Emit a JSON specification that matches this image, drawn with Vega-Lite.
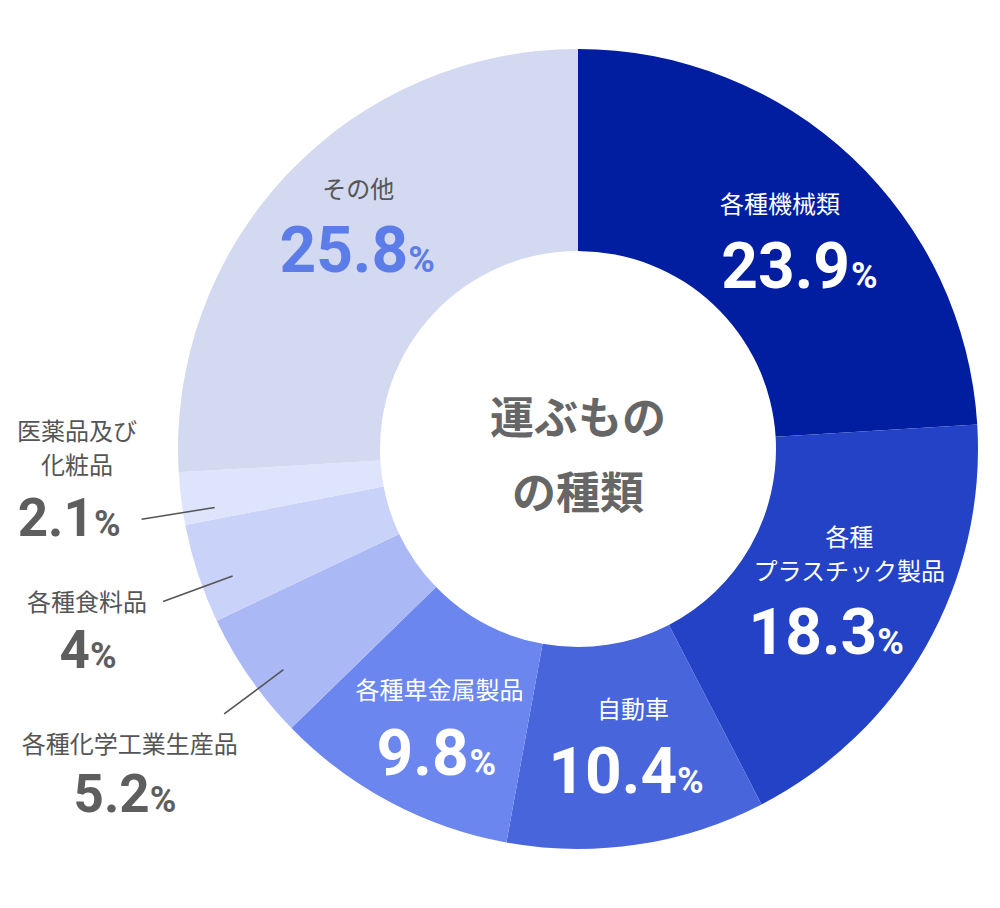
{
  "$schema": "https://vega.github.io/schema/vega-lite/v6.json",
  "width": 844,
  "height": 898,
  "padding": {"left": 156, "top": 0, "right": 0, "bottom": 0},
  "autosize": {"type": "none"},
  "background": "white",
  "config": {"view": {"stroke": null}},
  "layer": [
    {
      "data": {
        "values": [
          {"rank": 1, "name": "各種機械類", "value": 23.9},
          {"rank": 2, "name": "各種\nプラスチック製品", "value": 18.3},
          {"rank": 3, "name": "自動車", "value": 10.4},
          {"rank": 4, "name": "各種卑金属製品", "value": 9.8},
          {"rank": 5, "name": "各種化学工業生産品", "value": 5.2},
          {"rank": 6, "name": "各種食料品", "value": 4},
          {"rank": 7, "name": "医薬品及び\n化粧品", "value": 2.1},
          {"rank": 8, "name": "その他", "value": 25.8}
        ]
      },
      "encoding": {
        "theta": {"field": "value", "type": "quantitative", "stack": true},
        "order": {"field": "rank", "type": "quantitative"}
      },
      "layer": [
        {
          "mark": {"type": "arc", "outerRadius": 400, "innerRadius": 198},
          "encoding": {
            "color": {
              "field": "rank",
              "type": "ordinal",
              "legend": null,
              "scale": {
                "domain": [1, 2, 3, 4, 5, 6, 7, 8],
                "range": ["#001E9F", "#2442C6", "#4865DC", "#6B86EE", "#AAB9F5", "#C9D2F8", "#DEE4FC", "#D3D9F0"]
              }
            }
          }
        },
        {
          "mark": {"type": "arc", "innerRadius": 368, "outerRadius": 442, "padAngle": 1.2, "thetaOffset": -0.035, "filled": false, "stroke": "#555555", "strokeWidth": 1.6},
          "encoding": {
            "strokeOpacity": {"condition": {"test": "datum.rank >= 5 && datum.rank <= 7", "value": 1}, "value": 0}
          }
        },

        {"mark": {"type": "text", "radius": 305, "dx": -7, "dy": -21, "font": "Noto Sans CJK JP", "fontSize": 24, "color": "white", "align": "center", "baseline": "middle"},
         "encoding": {"text": {"condition": {"test": "datum.rank === 1", "field": "name", "type": "nominal"}, "value": ""}}},
        {"mark": {"type": "text", "radius": 305, "dx": 63, "dy": 61, "font": "Roboto", "fontWeight": "bold", "fontSize": 64, "color": "white", "align": "right", "baseline": "alphabetic"},
         "encoding": {"text": {"condition": {"test": "datum.rank === 1", "field": "value", "type": "quantitative"}, "value": ""}}},
        {"mark": {"type": "text", "radius": 305, "dx": 64, "dy": 61, "font": "Roboto", "fontWeight": "bold", "fontSize": 36, "color": "white", "align": "left", "baseline": "alphabetic", "text": "%"},
         "encoding": {"opacity": {"condition": {"test": "datum.rank === 1", "value": 1}, "value": 0}}},

        {"mark": {"type": "text", "radius": 305, "dx": 6, "dy": -61, "font": "Noto Sans CJK JP", "fontSize": 24, "color": "white", "align": "center", "baseline": "middle", "lineBreak": "\n", "lineHeight": 34},
         "encoding": {"text": {"condition": {"test": "datum.rank === 2", "field": "name", "type": "nominal"}, "value": ""}}},
        {"mark": {"type": "text", "radius": 305, "dx": 34, "dy": 54, "font": "Roboto", "fontWeight": "bold", "fontSize": 64, "color": "white", "align": "right", "baseline": "alphabetic"},
         "encoding": {"text": {"condition": {"test": "datum.rank === 2", "field": "value", "type": "quantitative"}, "value": ""}}},
        {"mark": {"type": "text", "radius": 305, "dx": 34, "dy": 54, "font": "Roboto", "fontWeight": "bold", "fontSize": 36, "color": "white", "align": "left", "baseline": "alphabetic", "text": "%"},
         "encoding": {"opacity": {"condition": {"test": "datum.rank === 2", "value": 1}, "value": 0}}},

        {"mark": {"type": "text", "radius": 305, "dx": 10, "dy": -40, "font": "Noto Sans CJK JP", "fontSize": 24, "color": "white", "align": "center", "baseline": "middle"},
         "encoding": {"text": {"condition": {"test": "datum.rank === 3", "field": "name", "type": "nominal"}, "value": ""}}},
        {"mark": {"type": "text", "radius": 305, "dx": 54, "dy": 42, "font": "Roboto", "fontWeight": "bold", "fontSize": 64, "color": "white", "align": "right", "baseline": "alphabetic"},
         "encoding": {"text": {"condition": {"test": "datum.rank === 3", "field": "value", "type": "quantitative"}, "value": ""}}},
        {"mark": {"type": "text", "radius": 305, "dx": 54, "dy": 42, "font": "Roboto", "fontWeight": "bold", "fontSize": 36, "color": "white", "align": "left", "baseline": "alphabetic", "text": "%"},
         "encoding": {"opacity": {"condition": {"test": "datum.rank === 3", "value": 1}, "value": 0}}},

        {"mark": {"type": "text", "radius": 305, "dx": 5, "dy": -26, "font": "Noto Sans CJK JP", "fontSize": 24, "color": "white", "align": "center", "baseline": "middle"},
         "encoding": {"text": {"condition": {"test": "datum.rank === 4", "field": "name", "type": "nominal"}, "value": ""}}},
        {"mark": {"type": "text", "radius": 305, "dx": 34, "dy": 57, "font": "Roboto", "fontWeight": "bold", "fontSize": 64, "color": "white", "align": "right", "baseline": "alphabetic"},
         "encoding": {"text": {"condition": {"test": "datum.rank === 4", "field": "value", "type": "quantitative"}, "value": ""}}},
        {"mark": {"type": "text", "radius": 305, "dx": 35, "dy": 57, "font": "Roboto", "fontWeight": "bold", "fontSize": 36, "color": "white", "align": "left", "baseline": "alphabetic", "text": "%"},
         "encoding": {"opacity": {"condition": {"test": "datum.rank === 4", "value": 1}, "value": 0}}},

        {"mark": {"type": "text", "radius": 540, "dx": -5, "dy": -11, "font": "Noto Sans CJK JP", "fontSize": 24, "color": "#555555", "align": "center", "baseline": "middle"},
         "encoding": {"text": {"condition": {"test": "datum.rank === 5", "field": "name", "type": "nominal"}, "value": ""}}},
        {"mark": {"type": "text", "radius": 540, "dx": 15, "dy": 55, "font": "Roboto", "fontWeight": "bold", "fontSize": 53, "color": "#5E5E5E", "align": "right", "baseline": "alphabetic"},
         "encoding": {"text": {"condition": {"test": "datum.rank === 5", "field": "value", "type": "quantitative"}, "value": ""}}},
        {"mark": {"type": "text", "radius": 540, "dx": 15, "dy": 55, "font": "Roboto", "fontWeight": "bold", "fontSize": 36, "color": "#5E5E5E", "align": "left", "baseline": "alphabetic", "text": "%"},
         "encoding": {"opacity": {"condition": {"test": "datum.rank === 5", "value": 1}, "value": 0}}},

        {"mark": {"type": "text", "radius": 520, "dx": 3, "dy": -7, "font": "Noto Sans CJK JP", "fontSize": 24, "color": "#555555", "align": "center", "baseline": "middle"},
         "encoding": {"text": {"condition": {"test": "datum.rank === 6", "field": "name", "type": "nominal"}, "value": ""}}},
        {"mark": {"type": "text", "radius": 520, "dx": 6, "dy": 57, "font": "Roboto", "fontWeight": "bold", "fontSize": 53, "color": "#5E5E5E", "align": "right", "baseline": "alphabetic"},
         "encoding": {"text": {"condition": {"test": "datum.rank === 6", "field": "value", "type": "quantitative"}, "value": ""}}},
        {"mark": {"type": "text", "radius": 520, "dx": 6, "dy": 57, "font": "Roboto", "fontWeight": "bold", "fontSize": 36, "color": "#5E5E5E", "align": "left", "baseline": "alphabetic", "text": "%"},
         "encoding": {"opacity": {"condition": {"test": "datum.rank === 6", "value": 1}, "value": 0}}},

        {"mark": {"type": "text", "radius": 500, "dx": -5, "dy": -78, "font": "Noto Sans CJK JP", "fontSize": 24, "color": "#555555", "align": "center", "baseline": "middle", "lineBreak": "\n", "lineHeight": 34},
         "encoding": {"text": {"condition": {"test": "datum.rank === 7", "field": "name", "type": "nominal"}, "value": ""}}},
        {"mark": {"type": "text", "radius": 500, "dx": 12, "dy": 25, "font": "Roboto", "fontWeight": "bold", "fontSize": 53, "color": "#5E5E5E", "align": "right", "baseline": "alphabetic"},
         "encoding": {"text": {"condition": {"test": "datum.rank === 7", "field": "value", "type": "quantitative"}, "value": ""}}},
        {"mark": {"type": "text", "radius": 500, "dx": 12, "dy": 25, "font": "Roboto", "fontWeight": "bold", "fontSize": 36, "color": "#5E5E5E", "align": "left", "baseline": "alphabetic", "text": "%"},
         "encoding": {"opacity": {"condition": {"test": "datum.rank === 7", "value": 1}, "value": 0}}},

        {"mark": {"type": "text", "radius": 305, "dx": 2, "dy": -49, "font": "Noto Sans CJK JP", "fontSize": 24, "color": "#555555", "align": "center", "baseline": "middle"},
         "encoding": {"text": {"condition": {"test": "datum.rank === 8", "field": "name", "type": "nominal"}, "value": ""}}},
        {"mark": {"type": "text", "radius": 305, "dx": 52, "dy": 32, "font": "Roboto", "fontWeight": "bold", "fontSize": 64, "color": "#5C7CE8", "align": "right", "baseline": "alphabetic"},
         "encoding": {"text": {"condition": {"test": "datum.rank === 8", "field": "value", "type": "quantitative"}, "value": ""}}},
        {"mark": {"type": "text", "radius": 305, "dx": 52, "dy": 32, "font": "Roboto", "fontWeight": "bold", "fontSize": 36, "color": "#5C7CE8", "align": "left", "baseline": "alphabetic", "text": "%"},
         "encoding": {"opacity": {"condition": {"test": "datum.rank === 8", "value": 1}, "value": 0}}}
      ]
    },
    {
      "data": {"values": [{"caption": "運ぶもの\nの種類"}]},
      "mark": {"type": "text", "font": "Noto Sans CJK JP", "fontWeight": "bold", "fontSize": 44, "color": "#666666", "align": "center", "baseline": "middle", "lineBreak": "\n", "lineHeight": 75, "dy": -28},
      "encoding": {"text": {"field": "caption", "type": "nominal"}}
    }
  ]
}
